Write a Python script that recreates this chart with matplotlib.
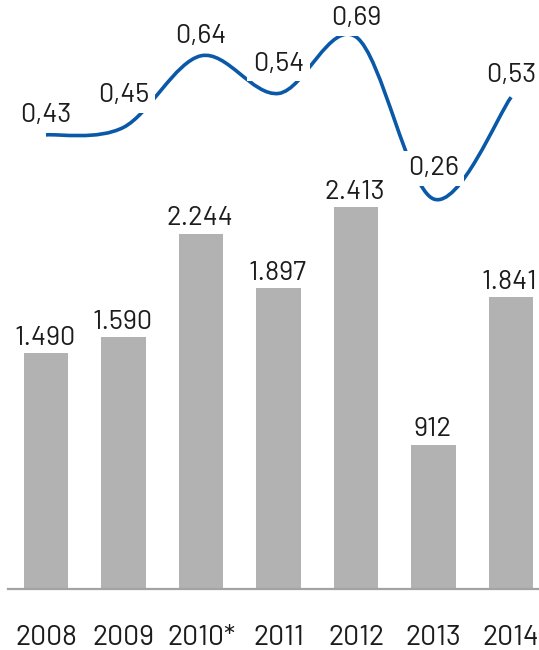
import numpy as np
import matplotlib.pyplot as plt
from matplotlib.path import Path
from matplotlib.patches import PathPatch

# Données
years = ['2008', '2009', '2010*', '2011', '2012', '2013', '2014']
bar_values = [1490, 1590, 2244, 1897, 2413, 912, 1841]
bar_labels = ['1.490', '1.590', '2.244', '1.897', '2.413', '912', '1.841']
line_values = [0.43, 0.45, 0.64, 0.54, 0.69, 0.26, 0.53]
line_labels = ['0,43', '0,45', '0,64', '0,54', '0,69', '0,26', '0,53']

# décalage vertical des étiquettes de la courbe (points)
line_label_dy = [9.5, 18, 9.5, 16.5, 8.5, 17, 11]

BAR_COLOR = '#b2b2b2'
LINE_COLOR = '#0a59a8'
TEXT_COLOR = '#1c1c1c'

plt.rcParams['font.family'] = ['Barlow', 'Roboto', 'DejaVu Sans']

fig = plt.figure(figsize=(5.39, 6.5), dpi=100)
ax = fig.add_axes([8 / 539, 61 / 650, 531 / 539, 589 / 650])

x = np.arange(len(years))
ax.bar(x, bar_values, width=0.57, color=BAR_COLOR, zorder=1)
for xi, v, lab in zip(x, bar_values, bar_labels):
    ax.annotate(lab, (xi, v), xytext=(-1, 5.8), textcoords='offset points',
                ha='center', va='baseline', fontsize=19.5, color=TEXT_COLOR)

ax.set_xlim(-0.49, 6.36)
ax.set_ylim(0, 3718)
ax.set_yticks([])
ax.set_xticks(x)
ax.set_xticklabels(years, fontsize=20.5, color=TEXT_COLOR)
ax.tick_params(axis='x', length=0, pad=26)
for s in ['top', 'left', 'right']:
    ax.spines[s].set_visible(False)
ax.spines['bottom'].set_color('#a3a3a3')
ax.spines['bottom'].set_linewidth(1.6)

# Courbe lissée (Catmull-Rom -> Bézier)
ax2 = ax.twinx()
ax2.set_ylim(-0.775, 0.788)
ax2.set_yticks([])
for s in ax2.spines.values():
    s.set_visible(False)

P = np.column_stack([x, line_values]).astype(float)
n = len(P)
verts = [P[0]]
codes = [Path.MOVETO]
for i in range(n - 1):
    p_prev = P[i - 1] if i > 0 else P[i]
    p_next = P[i + 2] if i + 2 < n else P[i + 1]
    c1 = P[i] + (P[i + 1] - p_prev) / 6
    c2 = P[i + 1] - (p_next - P[i]) / 6
    verts += [c1, c2, P[i + 1]]
    codes += [Path.CURVE4] * 3
ax2.add_patch(PathPatch(Path(verts, codes), fill=False, edgecolor=LINE_COLOR,
                        lw=2.6, capstyle='butt', zorder=2))

for xi, v, lab, dy in zip(x, line_values, line_labels, line_label_dy):
    ax2.annotate(lab, (xi, v), xytext=(0, dy), textcoords='offset points',
                 ha='center', va='baseline', fontsize=19.5, color=TEXT_COLOR,
                 zorder=3,
                 bbox=dict(boxstyle='square,pad=0.2', fc='white', ec='none'))

fig.savefig('out.png', dpi=100)
